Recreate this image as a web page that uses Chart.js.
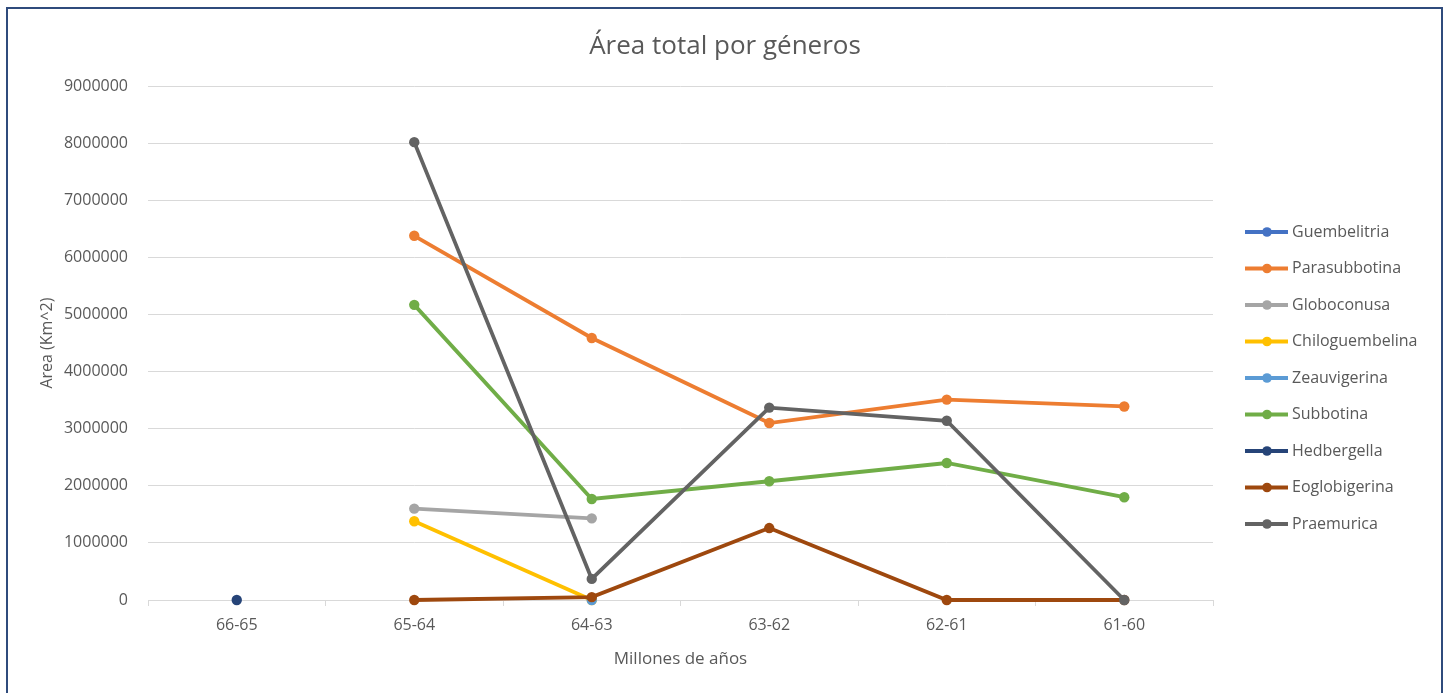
<!DOCTYPE html>
<html>
<head>
<meta charset="utf-8">
<script src="https://cdn.jsdelivr.net/npm/chart.js@4/dist/chart.umd.min.js"></script>
<style>
  html, body { margin: 0; padding: 0; background: #ffffff; }
  #wrap { position: relative; width: 1450px; height: 693px; }
</style>
</head>
<body>
<div id="wrap"><canvas id="c" width="1450" height="693"></canvas></div>
<script>
// Time intervals (millions of years)
const categories = ['66-65', '65-64', '64-63', '63-62', '62-61', '61-60'];

// Total area per genus (Km^2); null where the genus is absent
const guembelitria    = [null, null, null, null, null, null];
const parasubbotina   = [null, 6380000, 4590000, 3100000, 3510000, 3390000];
const globoconusa     = [null, 1600000, 1430000, null, null, null];
const chiloguembelina = [null, 1380000, 0, null, null, null];
const zeauvigerina    = [null, null, 0, null, null, null];
const subbotina       = [null, 5170000, 1770000, 2080000, 2400000, 1800000];
const hedbergella     = [0, null, null, null, null, null];
const eoglobigerina   = [null, 0, 50000, 1260000, 0, 0];
const praemurica      = [null, 8020000, 370000, 3370000, 3140000, 0];

const seriesNames = ['Guembelitria', 'Parasubbotina', 'Globoconusa', 'Chiloguembelina',
  'Zeauvigerina', 'Subbotina', 'Hedbergella', 'Eoglobigerina', 'Praemurica'];
const seriesValues = [guembelitria, parasubbotina, globoconusa, chiloguembelina,
  zeauvigerina, subbotina, hedbergella, eoglobigerina, praemurica];
const seriesColors = ['#4472C4', '#ED7D31', '#A5A5A5', '#FFC000', '#5B9BD5',
  '#70AD47', '#264478', '#9E480E', '#636363'];

const yTicks = { min: 0, max: 9000000, step: 1000000 };

const FONT = '"Open Sans", "DejaVu Sans", sans-serif';
const TEXT = '#595959';
const GRID = '#d9d9d9';

const datasets = seriesNames.map((name, i) => ({
  label: name,
  data: seriesValues[i],
  borderColor: seriesColors[i],
  backgroundColor: seriesColors[i],
  borderWidth: 3.8,
  pointRadius: 5.2,
  pointHoverRadius: 5.2,
  pointBorderWidth: 0,
  tension: 0,
  spanGaps: false,
  clip: false,
  // later series are painted over earlier ones
  order: seriesNames.length - i
}));

// Frame around the whole chart
const framePlugin = {
  id: 'frame',
  beforeDraw(chart) {
    const ctx = chart.ctx;
    ctx.save();
    ctx.fillStyle = '#ffffff';
    ctx.fillRect(0, 0, chart.width, chart.height);
    ctx.strokeStyle = '#2F4B7C';
    ctx.lineWidth = 2;
    ctx.strokeRect(7, 8, 1435, 700);
    ctx.restore();
  }
};

// Legend as a layout box on the right: short line with a marker, then the genus name
const lineLegendPlugin = {
  id: 'lineLegend',
  beforeInit(chart) {
    const box = {
      position: 'right',
      weight: 2000,
      fullSize: false,
      options: { stackWeight: 1 },
      width: 0, height: 0, left: 0, top: 0, right: 0, bottom: 0,
      isHorizontal() { return false; },
      update(maxWidth, maxHeight) {
        this.width = 237;
        this.height = maxHeight;
      },
      draw() {
        const ctx = chart.ctx;
        const x0 = this.left + 32;
        const y0 = 232;
        const gap = 36.5;
        ctx.save();
        ctx.font = '16px ' + FONT;
        ctx.textBaseline = 'middle';
        ctx.textAlign = 'left';
        chart.data.datasets.forEach((ds, i) => {
          const y = y0 + i * gap;
          ctx.strokeStyle = ds.borderColor;
          ctx.lineWidth = 3.8;
          ctx.beginPath();
          ctx.moveTo(x0, y);
          ctx.lineTo(x0 + 43, y);
          ctx.stroke();
          ctx.fillStyle = ds.borderColor;
          ctx.beginPath();
          ctx.arc(x0 + 22, y, 4.8, 0, Math.PI * 2);
          ctx.fill();
          ctx.fillStyle = TEXT;
          ctx.fillText(ds.label, x0 + 47, y);
        });
        ctx.restore();
      }
    };
    Chart.layouts.addBox(chart, box);
  }
};

new Chart(document.getElementById('c'), {
  type: 'line',
  data: { labels: categories, datasets },
  options: {
    responsive: false,
    animation: false,
    devicePixelRatio: 1,
    layout: { padding: 0 },
    plugins: {
      legend: { display: false },
      tooltip: { enabled: false },
      title: {
        display: true,
        text: 'Área total por géneros',
        color: TEXT,
        font: { family: FONT, size: 26, weight: 'normal' },
        padding: { top: 31, bottom: 24 }
      }
    },
    scales: {
      x: {
        offset: true,
        grid: {
          offset: true,
          drawOnChartArea: false,
          drawTicks: true,
          tickLength: 6,
          color: GRID,
          lineWidth: 1
        },
        border: { display: true, color: GRID, width: 1 },
        ticks: { color: TEXT, font: { family: FONT, size: 16 }, padding: 10 },
        title: {
          display: true,
          text: 'Millones de años',
          color: TEXT,
          font: { family: FONT, size: 17 },
          padding: { top: 0, bottom: 24 }
        },
        afterFit(scale) { scale.height = 93; }
      },
      y: {
        min: yTicks.min,
        max: yTicks.max,
        grid: { color: GRID, lineWidth: 1, drawTicks: false },
        border: { display: false },
        ticks: {
          stepSize: yTicks.step,
          color: TEXT,
          font: { family: FONT, size: 16 },
          padding: 20,
          callback: (v) => String(v)
        },
        title: {
          display: true,
          text: 'Area (Km^2)',
          color: TEXT,
          font: { family: FONT, size: 16 },
          padding: { top: 38, bottom: 0 }
        },
        afterFit(scale) { scale.width = 148; }
      }
    }
  },
  plugins: [framePlugin, lineLegendPlugin]
});
</script>
</body>
</html>
